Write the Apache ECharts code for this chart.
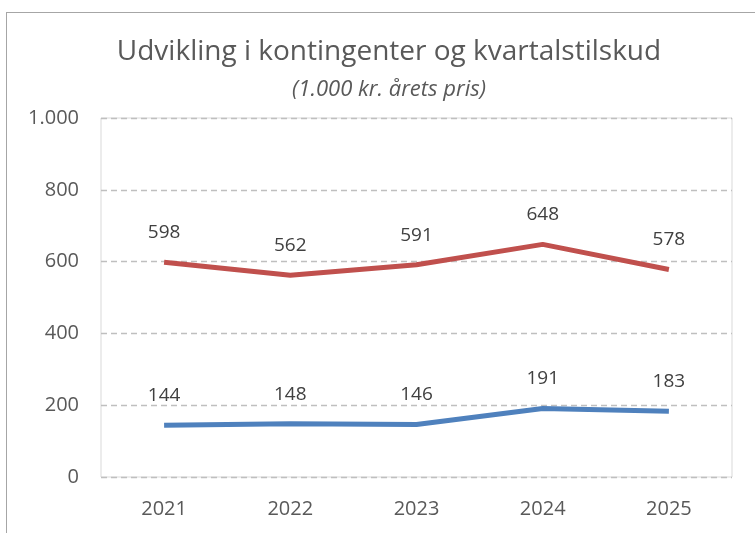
<!DOCTYPE html>
<html>
<head>
<meta charset="utf-8">
<script src="https://cdn.jsdelivr.net/npm/echarts@6/dist/echarts.min.js"></script>
<style>
  html, body { margin: 0; padding: 0; background: #fff; overflow: hidden; }
  #frame {
    position: absolute; left: 6px; top: 12px; width: 760px; height: 540px;
    border: 1px solid #a6a6a6; box-sizing: border-box;
  }
  #chart { position: absolute; left: 0; top: 0; width: 755px; height: 533px; }
</style>
</head>
<body>
<div id="frame"></div>
<div id="chart"></div>
<script>
const years = ['2021', '2022', '2023', '2024', '2025']
const kontingenter = [598, 562, 591, 648, 578]
const kvartalstilskud = [144, 148, 146, 191, 183]
const yTicks = { min: 0, max: 1000, interval: 200 }

const font = '"Open Sans", sans-serif'
const textColor = '#595959'

function fmt(v) {
  return v >= 1000 ? String(v).replace(/\B(?=(\d{3})+(?!\d))/g, '.') : String(v)
}

const labelStyle = {
  show: true,
  position: 'top',
  distance: 20,
  fontFamily: font,
  fontSize: 19,
  color: '#404040',
}

const chart = echarts.init(document.getElementById('chart'))

chart.setOption({
  animation: false,
  title: {
    text: 'Udvikling i kontingenter og kvartalstilskud',
    subtext: '(1.000 kr. årets pris)',
    left: 384,
    textAlign: 'center',
    top: 33,
    itemGap: 13,
    textStyle: { fontFamily: font, fontSize: 28, fontWeight: 'normal', color: textColor },
    subtextStyle: { fontFamily: font, fontSize: 22, fontStyle: 'italic', color: textColor },
  },
  grid: { left: 101, right: 23, top: 118, bottom: 56, show: true, borderColor: '#d9d9d9', borderWidth: 1 },
  xAxis: {
    type: 'category',
    data: years,
    axisLine: { show: false },
    axisTick: { show: false },
    axisLabel: { fontFamily: font, fontSize: 20, color: textColor, margin: 22 },
  },
  yAxis: {
    type: 'value',
    min: yTicks.min,
    max: yTicks.max,
    interval: yTicks.interval,
    axisLine: { show: false },
    axisTick: { show: false },
    axisLabel: { fontFamily: font, fontSize: 20, color: textColor, margin: 22, formatter: fmt },
    splitLine: { lineStyle: { color: '#bfbfbf', type: [6, 4], width: 1.3 } },
  },
  series: [
    {
      name: 'Kontingenter',
      type: 'line',
      data: kontingenter,
      symbol: 'circle',
      symbolSize: 0,
      showSymbol: true,
      itemStyle: { color: '#c0504d' },
      lineStyle: { color: '#c0504d', width: 5 },
      label: labelStyle,
    },
    {
      name: 'Kvartalstilskud',
      type: 'line',
      data: kvartalstilskud,
      symbol: 'circle',
      symbolSize: 0,
      showSymbol: true,
      itemStyle: { color: '#4f81bd' },
      lineStyle: { color: '#4f81bd', width: 5 },
      label: labelStyle,
    },
  ],
})
</script>
</body>
</html>
